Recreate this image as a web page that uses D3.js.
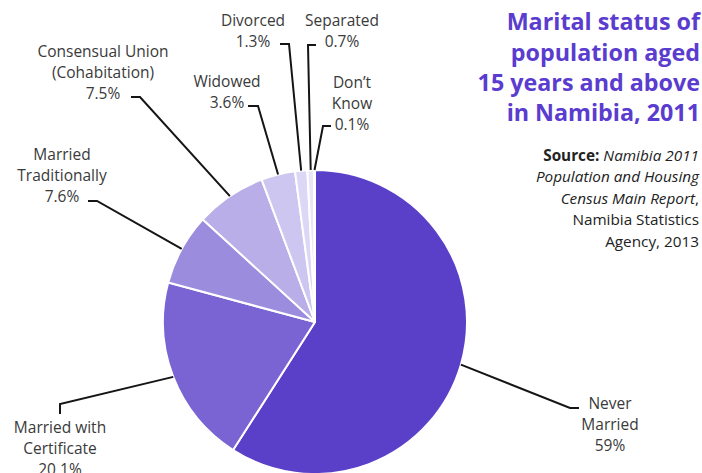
<!DOCTYPE html>
<html>
<head>
<meta charset="utf-8">
<script src="https://cdn.jsdelivr.net/npm/d3@7"></script>
<style>
  html, body { margin: 0; padding: 0; background: #fff; }
  svg { display: block; }
  text { font-family: "Open Sans", sans-serif; }
</style>
</head>
<body>
<svg id="chart" width="702" height="473"></svg>
<script>
// ---- data ----
const categories = ["Never Married", "Married with Certificate", "Married Traditionally",
  "Consensual Union (Cohabitation)", "Widowed", "Divorced", "Separated", "Don’t Know"];
const values = [59, 20.1, 7.6, 7.5, 3.6, 1.3, 0.7, 0.1];
const labelLines = [["Never", "Married"], ["Married with", "Certificate"], ["Married", "Traditionally"],
  ["Consensual Union", "(Cohabitation)"], ["Widowed"], ["Divorced"], ["Separated"], ["Don’t", "Know"]];
const titleLines = ["Marital status of", "population aged", "15 years and above", "in Namibia, 2011"];

// ---- styling / layout (not data) ----
const colors = ["#5a40c8", "#7a64d3", "#9b8cdd", "#b9aee8", "#cdc6f0", "#dcd7f5", "#e9e6f9", "#f3f1fc"];
const cx = 315, cy = 322, R = 152;
// label text position (first line centre), elbow and end of the leader line
const labelLayout = [
  { x: 610, y: 403, elbow: [570, 408], end: [579, 408] },
  { x: 60,  y: 427, elbow: [60, 404],  end: [60, 414] },
  { x: 62,  y: 154, elbow: [97, 201],  end: [88, 201] },
  { x: 103, y: 51,  elbow: [140, 97],  end: [131, 97] },
  { x: 227, y: 81,  elbow: [258, 106], end: [248, 106] },
  { x: 253, y: 20,  elbow: [289, 44],  end: [280, 44] },
  { x: 342, y: 20,  elbow: [308, 45],  end: [316, 45] },
  { x: 352, y: 82,  elbow: [323, 126], end: [331, 126] }
];
const lineH = 21;

const svg = d3.select("#chart");
const data = categories.map((c, i) => ({ cat: c, value: values[i], i }));

const pie = d3.pie().sort(null).value(d => d.value);
const arcs = pie(data);
const arc = d3.arc().innerRadius(0).outerRadius(R);
const edge = d3.arc().innerRadius(R).outerRadius(R);

const g = svg.append("g").attr("transform", `translate(${cx},${cy})`);
g.selectAll("path.slice").data(arcs).join("path")
  .attr("class", "slice")
  .attr("d", arc)
  .attr("fill", d => colors[d.data.i])
  .attr("stroke", "#fff")
  .attr("stroke-width", 2)
  .attr("stroke-linejoin", "round");

// leader lines
const line = d3.line();
svg.selectAll("path.leader").data(arcs).join("path")
  .attr("class", "leader")
  .attr("d", d => {
    const c = edge.centroid(d);
    const L = labelLayout[d.data.i];
    return line([[cx + c[0], cy + c[1]], L.elbow, L.end]);
  })
  .attr("fill", "none")
  .attr("stroke", "#151515")
  .attr("stroke-width", 2);

// labels
const lab = svg.selectAll("text.lab").data(arcs).join("text")
  .attr("class", "lab")
  .attr("text-anchor", "middle")
  .attr("font-size", "15.5px")
  .attr("fill", "#3a3a3a");
lab.each(function (d) {
  const L = labelLayout[d.data.i];
  const lines = labelLines[d.data.i].concat([d.data.value + "%"]);
  d3.select(this).selectAll("tspan").data(lines).join("tspan")
    .attr("x", L.x)
    .attr("y", (t, k) => L.y + k * lineH)
    .attr("dy", "0.36em")
    .text(t => t);
});

// title
svg.append("text")
  .attr("text-anchor", "end")
  .attr("font-size", "23.3px")
  .attr("font-weight", "bold")
  .attr("fill", "#5a3ccf")
  .selectAll("tspan").data(titleLines).join("tspan")
  .attr("x", 700)
  .attr("y", (t, k) => 22 + k * 30.3)
  .attr("dy", "0.36em")
  .text(t => t);

// source
const src = [
  [["Source:", "bold", "normal"], [" Namibia 2011", "normal", "italic"]],
  [["Population and Housing", "normal", "italic"]],
  [["Census Main Report", "normal", "italic"], [",", "normal", "normal"]],
  [["Namibia Statistics", "normal", "normal"]],
  [["Agency, 2013", "normal", "normal"]]
];
const srcText = svg.append("text")
  .attr("text-anchor", "end")
  .attr("font-size", "15.3px")
  .attr("fill", "#222");
src.forEach((parts, k) => {
  parts.forEach((p, j) => {
    const t = srcText.append("tspan")
      .attr("font-weight", p[1])
      .attr("font-style", p[2])
      .text(p[0]);
    if (j === 0) t.attr("x", 699).attr("y", 155 + k * 21.5).attr("dy", "0.36em");
  });
});
</script>
</body>
</html>
